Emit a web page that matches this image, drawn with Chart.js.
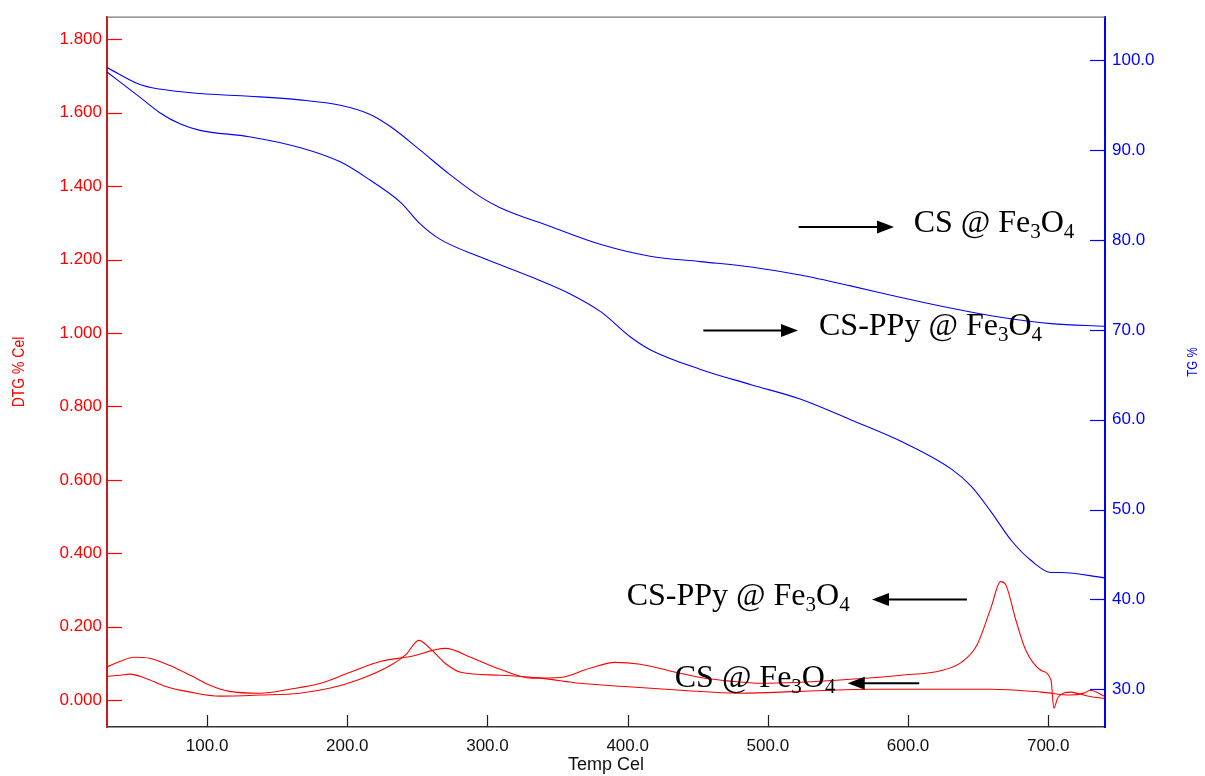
<!DOCTYPE html>
<html>
<head>
<meta charset="utf-8">
<script src="https://cdn.jsdelivr.net/npm/chart.js@4"></script>
<style>
  body { margin: 0; background: #fff; }
  #wrap { width: 1205px; height: 776px; }
</style>
</head>
<body>
<div id="wrap"><canvas id="tga"></canvas></div>
<script>
// tick labels
const tempTicks = [100, 200, 300, 400, 500, 600, 700];
const dtgTicks = [0, 0.2, 0.4, 0.6, 0.8, 1.0, 1.2, 1.4, 1.6, 1.8];
const tgTicks = [30, 40, 50, 60, 70, 80, 90, 100];

// TG, CS @ Fe3O4 (upper blue)
const tgCsTemp = [28.6, 52, 66, 95, 130, 166, 195, 216, 231, 252, 273, 295, 309, 345, 381, 416, 452, 488, 523, 559, 595, 631, 666, 702, 740];
const tgCsVal  = [99.2, 97.3, 96.8, 96.3, 96.0, 95.6, 95.0, 94.0, 92.6, 90.0, 87.3, 84.8, 83.6, 81.5, 79.5, 78.2, 77.6, 77.0, 76.1, 74.9, 73.6, 72.4, 71.4, 70.7, 70.4];

// TG, CS-PPy @ Fe3O4 (lower blue)
const tgPpyTemp = [28.6, 52, 66, 81, 95, 130, 166, 195, 216, 238, 252, 266, 295, 331, 359, 381, 402, 416, 452, 488, 523, 559, 595, 631, 645, 659, 674, 688, 702, 709, 740];
const tgPpyVal  = [98.7, 95.9, 94.2, 92.9, 92.2, 91.5, 90.3, 88.7, 86.7, 84.2, 81.8, 80.1, 78.1, 75.9, 74.0, 72.0, 69.2, 67.8, 65.6, 63.9, 62.3, 60.0, 57.6, 54.5, 52.6, 49.8, 46.5, 44.3, 43.0, 43.0, 42.4];

// DTG, CS-PPy @ Fe3O4
const dtgPpyTemp = [28.6, 38, 48, 59, 73, 88, 102, 116, 138, 159, 181, 202, 224, 245, 270, 288, 309, 331, 352, 373, 391, 409, 431, 452, 473, 495, 523, 559, 595, 624, 638, 649, 659, 666, 670, 677, 684, 695, 702, 704, 707, 716, 723, 733, 740];
const dtgPpyVal  = [0.090, 0.106, 0.117, 0.114, 0.095, 0.068, 0.041, 0.024, 0.019, 0.030, 0.046, 0.076, 0.106, 0.119, 0.141, 0.117, 0.084, 0.060, 0.062, 0.087, 0.103, 0.098, 0.079, 0.062, 0.052, 0.046, 0.049, 0.057, 0.068, 0.081, 0.103, 0.149, 0.250, 0.323, 0.312, 0.217, 0.136, 0.081, 0.054, -0.022, 0.008, 0.022, 0.016, 0.008, 0.005];

// DTG, CS @ Fe3O4
const dtgCsTemp = [28.6, 38, 45, 56, 70, 88, 109, 138, 166, 188, 209, 231, 242, 251, 259, 270, 281, 309, 338, 366, 395, 438, 480, 523, 573, 616, 659, 695, 716, 726, 730, 740];
const dtgCsVal  = [0.065, 0.068, 0.071, 0.060, 0.038, 0.022, 0.011, 0.014, 0.019, 0.033, 0.057, 0.095, 0.125, 0.163, 0.141, 0.100, 0.076, 0.068, 0.060, 0.046, 0.038, 0.027, 0.019, 0.024, 0.030, 0.030, 0.030, 0.022, 0.014, 0.020, 0.027, 0.011];

// annotations: text x / baseline, arrow from -> to
const notes = [
  { axis: 'y1', pre: 'CS @ Fe', tx: 604, ty: 80.9, ax0: 522, ax1: 590, ay: 81.45 },
  { axis: 'y1', pre: 'CS-PPy @ Fe', tx: 536.5, ty: 69.48, ax0: 454, ax1: 521.5, ay: 69.92 },
  { axis: 'y', pre: 'CS-PPy @ Fe', tx: 399.3, ty: 0.258, ax0: 642, ax1: 574.3, ay: 0.274 },
  { axis: 'y', pre: 'CS @ Fe', tx: 433.6, ty: 0.035, ax0: 608, ax1: 557, ay: 0.046 }
];

function pts(xs, ys) {
  return xs.map((x, i) => ({ x: x, y: ys[i] }));
}

// vertical, condensed axis title reading upward
function sideTitle(ctx, text, x, y, size, color) {
  ctx.save();
  ctx.translate(x, y);
  ctx.rotate(-Math.PI / 2);
  ctx.scale(0.82, 1);
  ctx.fillStyle = color;
  ctx.font = size + 'px "Liberation Sans", Arial, sans-serif';
  ctx.textAlign = 'center';
  ctx.textBaseline = 'middle';
  ctx.fillText(text, 0, 0);
  ctx.restore();
}

const insideTicks = {
  id: 'insideTicks',
  afterDraw(chart) {
    const ctx = chart.ctx;
    const a = chart.chartArea;
    const sx = chart.scales.x, sy = chart.scales.y, sy1 = chart.scales.y1;
    ctx.save();
    ctx.lineWidth = 1.2;
    // top frame
    ctx.strokeStyle = '#777';
    ctx.beginPath(); ctx.moveTo(a.left, a.top); ctx.lineTo(a.right, a.top); ctx.stroke();
    ctx.strokeStyle = '#ff0000';
    dtgTicks.forEach(v => {
      const p = Math.round(sy.getPixelForValue(v)) + 0.5;
      ctx.beginPath(); ctx.moveTo(a.left, p); ctx.lineTo(a.left + 15, p); ctx.stroke();
    });
    ctx.strokeStyle = '#0000ff';
    tgTicks.forEach(v => {
      const p = Math.round(sy1.getPixelForValue(v)) + 0.5;
      ctx.beginPath(); ctx.moveTo(a.right, p); ctx.lineTo(a.right - 15, p); ctx.stroke();
    });
    ctx.strokeStyle = '#222';
    tempTicks.forEach(v => {
      const p = Math.round(sx.getPixelForValue(v)) + 0.5;
      ctx.beginPath(); ctx.moveTo(p, a.bottom); ctx.lineTo(p, a.bottom - 12); ctx.stroke();
    });

    sideTitle(ctx, 'DTG % Cel', 19.5, 372, 17, '#ff0000');
    sideTitle(ctx, 'TG %', 1193, 362, 14, '#0000ff');

    // annotations
    notes.forEach(n => {
      const ys = chart.scales[n.axis];
      let x = sx.getPixelForValue(n.tx);
      const by = ys.getPixelForValue(n.ty);
      ctx.fillStyle = '#000';
      ctx.textBaseline = 'alphabetic';
      ctx.textAlign = 'left';
      const big = '32px "Liberation Serif", "Times New Roman", serif';
      const small = '21px "Liberation Serif", "Times New Roman", serif';
      ctx.font = big; ctx.fillText(n.pre, x, by); x += ctx.measureText(n.pre).width;
      ctx.font = small; ctx.fillText('3', x, by + 6); x += ctx.measureText('3').width;
      ctx.font = big; ctx.fillText('O', x, by); x += ctx.measureText('O').width;
      ctx.font = small; ctx.fillText('4', x, by + 6);

      const x0 = sx.getPixelForValue(n.ax0), x1 = sx.getPixelForValue(n.ax1);
      const y = ys.getPixelForValue(n.ay);
      const dir = x1 > x0 ? 1 : -1;
      ctx.strokeStyle = '#000';
      ctx.lineWidth = 2;
      ctx.beginPath(); ctx.moveTo(x0, y); ctx.lineTo(x1 - dir * 14, y); ctx.stroke();
      ctx.beginPath();
      ctx.moveTo(x1, y);
      ctx.lineTo(x1 - dir * 17, y - 6.5);
      ctx.lineTo(x1 - dir * 17, y + 6.5);
      ctx.closePath(); ctx.fill();
    });
    ctx.restore();
  }
};

const data = {
  datasets: [
    { label: 'TG CS', data: pts(tgCsTemp, tgCsVal), yAxisID: 'y1', borderColor: '#0000ff' },
    { label: 'TG CS-PPy', data: pts(tgPpyTemp, tgPpyVal), yAxisID: 'y1', borderColor: '#0000ff' },
    { label: 'DTG CS-PPy', data: pts(dtgPpyTemp, dtgPpyVal), yAxisID: 'y', borderColor: '#ff0000' },
    { label: 'DTG CS', data: pts(dtgCsTemp, dtgCsVal), yAxisID: 'y', borderColor: '#ff0000' }
  ]
};

const tickFont = { family: '"Liberation Sans", Arial, sans-serif', size: 17 };

const config = {
  type: 'line',
  data: data,
  options: {
    animation: false,
    responsive: true,
    maintainAspectRatio: false,
    layout: { padding: { top: 15, left: 0, right: 0, bottom: 0 } },
    elements: {
      line: { borderWidth: 1.1, cubicInterpolationMode: 'monotone', fill: false },
      point: { radius: 0 }
    },
    plugins: { legend: { display: false }, tooltip: { enabled: false } },
    scales: {
      x: {
        type: 'linear',
        min: 28.6,
        max: 740.5,
        afterFit: s => { s.height = 49; },
        afterBuildTicks: s => { s.ticks = tempTicks.map(v => ({ value: v })); },
        grid: { drawOnChartArea: false, drawTicks: false },
        border: { color: '#333', width: 1.5 },
        ticks: { color: '#111', font: tickFont, padding: 9, maxRotation: 0, callback: v => v.toFixed(1) },
        title: { display: true, text: 'Temp Cel', color: '#111', font: { family: '"Liberation Sans", Arial, sans-serif', size: 18 }, padding: { top: 0, bottom: 0 } }
      },
      y: {
        position: 'left',
        min: -0.073,
        max: 1.86,
        afterFit: s => { s.width = 107; },
        afterBuildTicks: s => { s.ticks = dtgTicks.map(v => ({ value: v })); },
        grid: { drawOnChartArea: false, drawTicks: false },
        border: { color: '#c81e1e', width: 2 },
        ticks: { color: '#ff0000', font: tickFont, padding: 5, callback: v => v.toFixed(3) }
      },
      y1: {
        position: 'right',
        min: 25.8,
        max: 104.8,
        afterFit: s => { s.width = 100; },
        afterBuildTicks: s => { s.ticks = tgTicks.map(v => ({ value: v })); },
        grid: { drawOnChartArea: false, drawTicks: false },
        border: { color: '#0000ff', width: 2 },
        ticks: { color: '#0000ff', font: tickFont, padding: 7, callback: v => v.toFixed(1) }
      }
    }
  },
  plugins: [insideTicks]
};

const myChart = new Chart(document.getElementById('tga'), config);
</script>
</body>
</html>
